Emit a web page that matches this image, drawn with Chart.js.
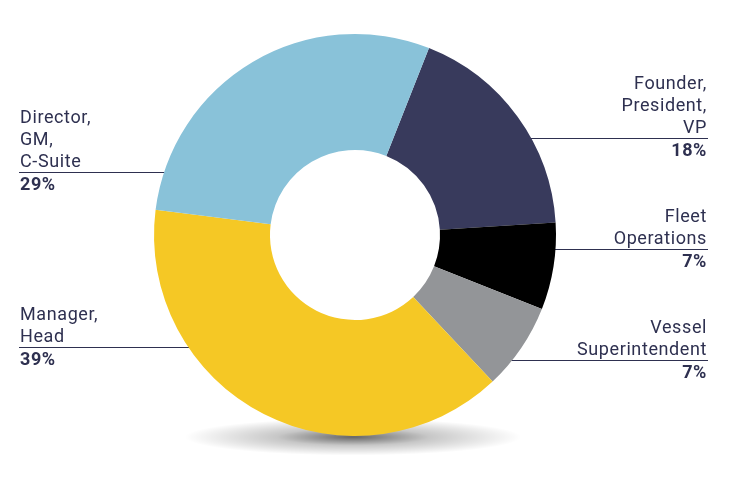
<!DOCTYPE html>
<html>
<head>
<meta charset="utf-8">
<script src="https://cdn.jsdelivr.net/npm/chart.js@4/dist/chart.umd.min.js"></script>
<style>
html,body{margin:0;padding:0;background:#fff;}
canvas{display:block;}
</style>
</head>
<body>
<canvas id="c" width="729" height="486"></canvas>
<script>
// ---- data ----
const categories = ["Founder, President, VP", "Fleet Operations", "Vessel Superintendent", "Manager, Head", "Director, GM, C-Suite"];
const labelLines = [["Founder,", "President,", "VP"], ["Fleet", "Operations"], ["Vessel", "Superintendent"], ["Manager,", "Head"], ["Director,", "GM,", "C-Suite"]];
const shares = [18, 7, 7, 39, 29];
const percentLabels = ["18%", "7%", "7%", "39%", "29%"];

// ---- styles / layout ----
const colors = ["#383a5c", "#000000", "#939598", "#f5c825", "#89c2d9"];
const labelSide = ["right", "right", "right", "left", "left"];
const ruleY = [138, 249, 360, 347, 172];
const textColor = "#2e3050";

const labelPlugin = {
  id: 'labelPlugin',
  beforeDatasetsDraw(chart) {
    const ctx = chart.ctx;
    const arc = chart.getDatasetMeta(0).data[0];
    const cx = arc.x, cy = arc.y, R = arc.outerRadius;
    // soft shadow below doughnut
    ctx.save();
    ctx.translate(cx - 2, cy + R + 1);
    ctx.scale(1, 0.11);
    const g = ctx.createRadialGradient(0, 0, 0, 0, 0, 168);
    g.addColorStop(0, 'rgba(0,0,0,0.6)');
    g.addColorStop(0.45, 'rgba(0,0,0,0.22)');
    g.addColorStop(1, 'rgba(0,0,0,0)');
    ctx.fillStyle = g;
    ctx.beginPath();
    ctx.arc(0, 0, 168, 0, Math.PI * 2);
    ctx.fill();
    ctx.restore();

    // rules and texts
    ctx.save();
    ctx.strokeStyle = textColor;
    ctx.lineWidth = 1;
    ctx.fillStyle = textColor;
    ctx.textBaseline = 'alphabetic';
    for (let i = 0; i < shares.length; i++) {
      const y = ruleY[i];
      const dx = Math.sqrt(Math.max(0, R * R - (y - cy) * (y - cy)));
      const left = labelSide[i] === 'left';
      const x0 = left ? 19 : cx + dx - 2;
      const x1 = left ? cx - dx + 2 : 708;
      ctx.beginPath();
      ctx.moveTo(x0, y + 0.5);
      ctx.lineTo(x1, y + 0.5);
      ctx.stroke();
      ctx.textAlign = left ? 'left' : 'right';
      const tx = left ? 20 : 707;
      ctx.letterSpacing = '0.6px';
      ctx.font = '18px Roboto';
      const lines = labelLines[i];
      for (let k = 0; k < lines.length; k++) {
        ctx.fillText(lines[k], tx, y - 5 - 22 * (lines.length - 1 - k));
      }
      ctx.font = 'bold 18px Roboto';
      ctx.fillText(percentLabels[i], tx, y + 18);
    }
    ctx.restore();
  }
};

new Chart(document.getElementById('c'), {
  type: 'doughnut',
  data: {
    labels: categories,
    datasets: [{
      data: shares,
      backgroundColor: colors,
      borderWidth: 0,
      hoverOffset: 0
    }]
  },
  options: {
    responsive: false,
    animation: false,
    rotation: 21.6,
    cutout: '42.3%',
    layout: { padding: { left: 154, right: 173, top: 34, bottom: 50 } },
    plugins: { legend: { display: false }, tooltip: { enabled: false } }
  },
  plugins: [labelPlugin]
});
</script>
</body>
</html>
